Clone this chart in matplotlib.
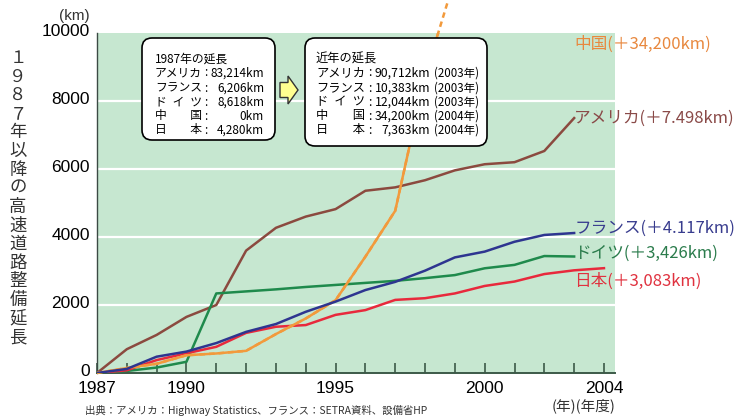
import matplotlib
matplotlib.use("Agg")
import matplotlib.pyplot as plt
import matplotlib.transforms as mtrans
from matplotlib.patches import FancyBboxPatch, FancyArrow, Rectangle

# data (km added since 1987)
years = list(range(1987, 2005))
years_03 = years[:-1]

usa = [0, 700, 1120, 1650, 2000, 3600, 4270, 4600, 4820, 5360, 5460, 5670,
       5960, 6140, 6200, 6530, 7498]
france = [0, 120, 480, 630, 880, 1210, 1440, 1800, 2100, 2440, 2680, 3010,
          3400, 3570, 3860, 4060, 4117]
germany = [0, 60, 160, 330, 2340, 2400, 2460, 2530, 2590, 2650, 2710, 2790,
           2880, 3080, 3180, 3440, 3426]
japan = [0, 80, 380, 580, 770, 1180, 1360, 1410, 1710, 1850, 2150, 2200,
         2340, 2560, 2690, 2910, 3020, 3083]
china = [0, 147, 271, 522, 574, 652, 1145, 1603, 2141, 3422, 4771, 8733,
         11605, 16314, 19437, 25130, 29745, 34200]

end_labels = ["中国(＋34,200km)", "アメリカ(＋7.498km)", "フランス(＋4.117km)",
              "ドイツ(＋3,426km)", "日本(＋3,083km)"]
end_label_y = [9680, 7498, 4260, 3530, 2700]

box1_title = "1987年の延長"
box1_names = ["アメリカ", "フランス", "ド\u2002イ\u2002ツ", "中　　国", "日　　本"]
box1_values = ["83,214km", "6,206km", "8,618km", "0km", "4,280km"]
box2_title = "近年の延長"
box2_values = ["90,712km", "10,383km", "12,044km", "34,200km", "7,363km"]
box2_years = ["(2003年)", "(2003年)", "(2003年)", "(2004年)", "(2004年)"]

ylabel_text = "１９８７年以降の高速道路整備延長"
xtick_shown = [1987, 1990, 1995, 2000, 2004]

c_usa = "#8b4a3f"
c_fra = "#2e3590"
c_ger = "#1f8a4c"
c_jpn = "#e8293c"
c_chn = "#f29a3c"
label_colors = ["#e8883e", "#8a4a48", "#383c8e", "#2b7c4c", "#e0323f"]

cjk = ["Noto Sans CJK JP", "DejaVu Sans"]
plt.rcParams["font.family"] = ["Liberation Sans", "Noto Sans CJK JP"]

W, H = 736, 417
fig = plt.figure(figsize=(W / 100, H / 100), dpi=100)
ax = fig.add_axes([97 / W, 1 - 373 / H, (615 - 97) / W, (373 - 33) / H])
ax.set_facecolor("#c6e7d0")
ax.set_xlim(1987, 2004.37)
ax.set_ylim(0, 10000)

for v in [2000, 4000, 6000, 8000]:
    ax.axhline(v, color="white", lw=1.6, zorder=1)

ax.plot(years_03, usa, color=c_usa, lw=1.8, zorder=3)
ax.plot(years_03, germany, color=c_ger, lw=1.8, zorder=3)
ax.plot(years, japan, color=c_jpn, lw=1.8, zorder=3)
ax.plot(years_03, france, color=c_fra, lw=1.8, zorder=4)
ax.plot(years, china, color=c_chn, lw=1.8, zorder=3)
# part of the China line above the frame is dashed
dash, = ax.plot(years, china, color=c_chn, lw=1.8, ls=(0, (2.2, 1.6)),
                clip_on=False, zorder=3)
dash.set_clip_path(Rectangle((0, 1), 1, 5, transform=ax.transAxes))

for txt, yv, col in zip(end_labels, end_label_y, label_colors):
    ax.text(2003.0, yv, txt, color=col, fontsize=12, family=cjk,
            ha="left", va="center", clip_on=False)

ax.set_xticks(years)
ax.set_xticklabels([str(y) if y in xtick_shown else "" for y in years])
ax.set_yticks([0, 2000, 4000, 6000, 8000, 10000])
ax.tick_params(axis="x", direction="in", length=7, width=1.2,
               color="#3c5a48", labelsize=12.5, pad=6)
ax.tick_params(axis="y", length=0, labelsize=12.5, pad=5)
# y labels sit a little above their gridlines
shift = mtrans.ScaledTranslation(0, 3 / 100, fig.dpi_scale_trans)
for lab in ax.get_yticklabels():
    lab.set_transform(lab.get_transform() + shift)
for s in ["top", "right"]:
    ax.spines[s].set_visible(False)
ax.spines["left"].set_color("#3c4a44")
ax.spines["bottom"].set_color("#3c5a48")
ax.spines["left"].set_linewidth(1.0)
ax.spines["bottom"].set_linewidth(1.4)


def fx(px):
    return px / W


def fy(py):
    return 1 - py / H


fig.text(fx(90), fy(16), "(km)", ha="right", va="center", fontsize=11,
         color="#333333")

# vertical axis title, one character per line
for i, ch in enumerate(ylabel_text):
    fig.text(fx(18), fy(58 + i * 18.6), ch, ha="center", va="center",
             fontsize=12.5, family=cjk, color="#333333")

fig.text(fx(584), fy(406), "(年)(年度)", ha="center", va="center",
         fontsize=10.5, family=cjk, color="#333333")
fig.text(fx(85), fy(416.5), "出典：アメリカ：Highway Statistics、フランス：SETRA資料、設備省HP",
         ha="left", va="bottom", fontsize=7.5, family=cjk, color="#333333")

# info boxes
inch = fig.dpi_scale_trans


def box(x0, y0, x1, y1):
    p = FancyBboxPatch(((x0) / 100, (H - y1) / 100), (x1 - x0) / 100,
                       (y1 - y0) / 100, boxstyle="round,pad=0,rounding_size=0.1",
                       transform=inch, facecolor="white", edgecolor="black",
                       lw=1.2, zorder=10)
    fig.patches.append(p)


box(142, 38, 275, 140)
box(305, 38, 487, 146)

row_y = [73, 88, 102, 116, 130]
fs1 = 8.5
fig.text(fx(155), fy(59), box1_title, fontsize=fs1, family=cjk,
         va="center", zorder=11)
for yy, nm, val in zip(row_y, box1_names, box1_values):
    fig.text(fx(155), fy(yy), nm, fontsize=fs1, family=cjk, va="center", zorder=11)
    fig.text(fx(206), fy(yy), ":", fontsize=fs1, family=cjk, va="center",
             ha="center", zorder=11)
    fig.text(fx(264), fy(yy), val, fontsize=fs1, family=cjk, va="center",
             ha="right", zorder=11)

fs2 = 8.8
fig.text(fx(316), fy(59), box2_title, fontsize=fs2, family=cjk,
         va="center", zorder=11)
for yy, nm, val, yr in zip(row_y, box1_names, box2_values, box2_years):
    fig.text(fx(316), fy(yy), nm, fontsize=fs2, family=cjk, va="center", zorder=11)
    fig.text(fx(370), fy(yy), ":", fontsize=fs2, family=cjk, va="center",
             ha="center", zorder=11)
    fig.text(fx(430), fy(yy), val, fontsize=fs2, family=cjk, va="center",
             ha="right", zorder=11)
    fig.text(fx(434), fy(yy), yr, fontsize=8.3, family=cjk, va="center", zorder=11)

arr = FancyArrow(280 / 100, (H - 90) / 100, 18 / 100, 0, width=15 / 100,
                 head_width=28 / 100, head_length=10 / 100,
                 length_includes_head=True, transform=inch,
                 facecolor="#ffff90", edgecolor="#333333", lw=1.0, zorder=10)
fig.patches.append(arr)

fig.savefig("out.png", dpi=100)
